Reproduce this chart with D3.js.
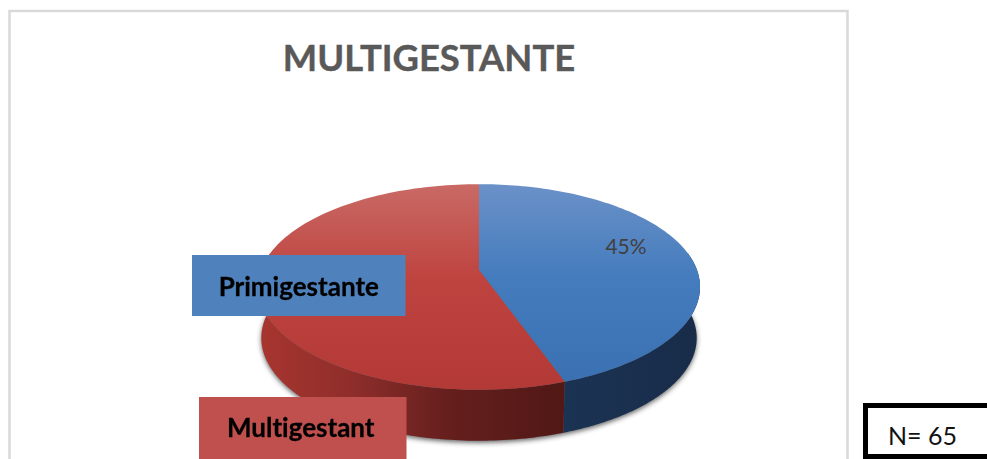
<!DOCTYPE html>
<html><head><meta charset="utf-8">
<script src="https://cdnjs.cloudflare.com/ajax/libs/d3/7.8.5/d3.min.js"></script>
<style>html,body{margin:0;padding:0;background:#fff;overflow:hidden}svg{display:block}text{font-family:Lato,"Open Sans",sans-serif;font-variant-ligatures:none}</style>
</head><body><svg id="c" width="987" height="459"></svg>
<script>
const chartTitle = "MULTIGESTANTE";
const categories = ["Primigestante", "Multigestant"];
const values = [29, 36];
const shownLabels = ["45%"];
const note = "N= 65";

const svg = d3.select("#c");
const defs = svg.append("defs");

function grad(id, stops, horizontal, user) {
  const g = defs.append("linearGradient").attr("id", id);
  if (user) g.attr("gradientUnits", "userSpaceOnUse").attr("x1", user[0]).attr("y1", user[1]).attr("x2", user[2]).attr("y2", user[3]);
  else g.attr("x1", 0).attr("y1", 0).attr("x2", horizontal ? 1 : 0).attr("y2", horizontal ? 0 : 1);
  stops.forEach(s => g.append("stop").attr("offset", s[0]).attr("stop-color", s[1]));
}
grad("topBlue", [[0, "#6b91c8"], [.45, "#447cbd"], [1, "#3a70b2"]], false, [0, 184, 0, 390]);
grad("topRed", [[0, "#c96a65"], [.45, "#bf4440"], [1, "#b33936"]], false, [0, 184, 0, 390]);
grad("sideBlue", [[0, "#1b3353"], [1, "#182c49"]], true);
grad("sideRed", [[0, "#a8352f"], [.3, "#8f2e2b"], [.62, "#651f1d"], [1, "#511816"]], true);
defs.append("filter").attr("id", "blur").attr("x", "-10%").attr("y", "-10%").attr("width", "120%").attr("height", "120%")
  .append("feGaussianBlur").attr("stdDeviation", 2.5);
defs.append("filter").attr("id", "soft").append("feGaussianBlur").attr("stdDeviation", 0.3);

// Chart frame (clipped by the window at the bottom)
svg.append("rect").attr("x", 9.5).attr("y", 11).attr("width", 838).attr("height", 480)
  .attr("fill", "#fff").attr("stroke", "#d9d9d9").attr("stroke-width", 2.5);

svg.append("text").attr("x", 429).attr("y", 71).attr("text-anchor", "middle")
  .attr("font-size", 36.4).attr("font-weight", 700).attr("fill", "#595959")
  .attr("stroke", "#595959").attr("stroke-width", .4).text(chartTitle);

// Pie layout: clockwise from 12 o'clock
const arcs = d3.pie().sort(null)(values);

// Perspective projection of the unit disc on to the page
const persp = 0.165;
const sx = d3.scaleLinear().domain([-1, 1]).range([261, 697]);
const sy = d3.scaleLinear().domain([-1, 1]).range([170, 370]);
function project(a, r, depth) {
  const u = r * Math.sin(a), v = -r * Math.cos(a);
  const d = 1 - persp * v;
  const shrink = depth ? 0.985 : 1;
  return [sx(0) + (sx(1) - sx(0)) * shrink * u / d, sy(0) + (sy(1) - sy(0)) * v / d + depth];
}
const depth = 51;
const line = d3.line();
const samples = (a0, a1) => d3.range(0, 121).map(i => a0 + (a1 - a0) * i / 120);

const pieG = svg.append("g");

// Soft shadow under the disc
const full = samples(0, 2 * Math.PI);
pieG.append("path").attr("d", line(full.map(a => project(a, 1, depth + 2))) + "Z")
  .attr("fill", "#333").attr("opacity", .75).attr("filter", "url(#blur)");

// Side walls: only the front part of each slice is visible
const sideFill = ["url(#sideBlue)", "url(#sideRed)"];
const frontFrom = Math.PI / 2 - 0.17, frontTo = 3 * Math.PI / 2 + 0.17;
arcs.forEach((d, i) => {
  const a0 = Math.max(d.startAngle, frontFrom), a1 = Math.min(d.endAngle, frontTo);
  if (a1 <= a0) return;
  const as = samples(a0, a1);
  const pts = as.map(a => project(a, 1, 0)).concat(as.slice().reverse().map(a => project(a, 1, depth)));
  pieG.append("path").attr("d", line(pts) + "Z").attr("fill", sideFill[i]);
});

// Top faces
const topFill = ["url(#topBlue)", "url(#topRed)"];
arcs.forEach((d, i) => {
  const pts = [project(0, 0, 0)].concat(samples(d.startAngle, d.endAngle).map(a => project(a, 1, 0)));
  pieG.append("path").attr("d", line(pts) + "Z").attr("fill", topFill[i]);
});

// Data label for the first slice
svg.append("text").attr("x", 626).attr("y", 254).attr("text-anchor", "middle")
  .attr("font-size", 21).attr("fill", "#404040").text(shownLabels[0]);

// Legend-like boxes
const boxFill = ["#4f81bd", "#c0504d"];
const boxes = [{x: 192, y: 255, w: 213.5, h: 61}, {x: 199, y: 397, w: 207.5, h: 62}];
categories.forEach((c, i) => {
  const b = boxes[i];
  svg.append("rect").attr("x", b.x).attr("y", b.y).attr("width", b.w).attr("height", b.h).attr("fill", boxFill[i]);
  svg.append("text").attr("x", b.x + b.w / 2 - (i ? 2 : 0)).attr("y", b.y + (i ? 40 : 41)).attr("text-anchor", "middle")
    .attr("font-size", 26).attr("font-weight", 700).attr("fill", "#000")
    .attr("stroke", "#000").attr("stroke-width", .3).attr("filter", "url(#soft)").text(c);
});

// N box, running off the window edge
svg.append("rect").attr("x", 865.5).attr("y", 405.5).attr("width", 140).attr("height", 51)
  .attr("fill", "#fff").attr("stroke", "#000").attr("stroke-width", 5);
svg.append("text").attr("x", 888).attr("y", 445).attr("font-size", 25).attr("fill", "#111").text(note);
</script></body></html>
